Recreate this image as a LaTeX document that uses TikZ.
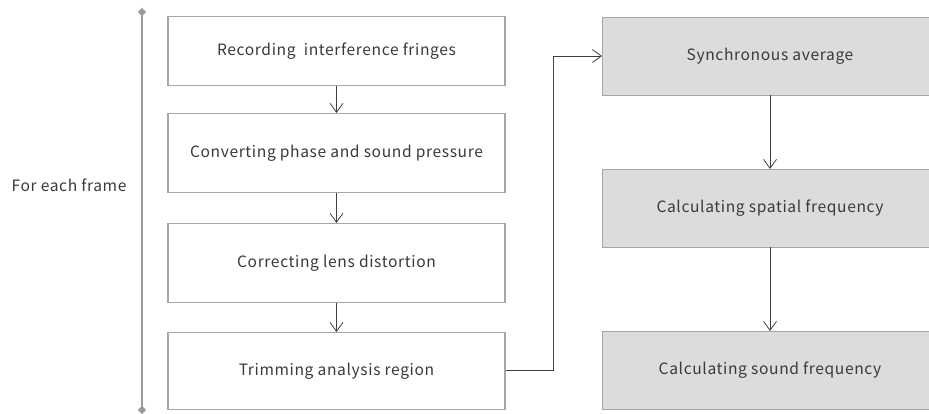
\documentclass[tikz,border=0pt]{standalone}
\usepackage{fontspec}
\setmainfont{Noto Sans CJK JP}[LetterSpace=4]
\usetikzlibrary{arrows.meta,shapes.geometric}
\definecolor{boxborder}{HTML}{A6A6A6}
\definecolor{boxfill}{HTML}{DCDCDE}
\definecolor{txt}{HTML}{3A3A3A}
\definecolor{arr}{HTML}{404040}
\definecolor{bar}{HTML}{9A9A9A}
\begin{document}
\begin{tikzpicture}[x=1pt,y=-1pt,
  stepbox/.style={draw=boxborder,line width=1.4pt,fill=white,minimum width=337pt,anchor=north,inner sep=0pt,text=txt,font=\fontsize{15.6}{18}\selectfont},
  graybox/.style={draw=boxborder,line width=1.4pt,fill=boxfill,minimum width=336pt,minimum height=78pt,anchor=north west,inner sep=0pt},
  flow/.style={draw=arr,line width=0.8pt,-{Straight Barb[length=9pt,width=13pt,line width=0.8pt]}},
  lbl/.style={text=txt,font=\fontsize{15.6}{18}\selectfont}]
\useasboundingbox (0,0) rectangle (929,414);
\clip (0,0) rectangle (929,414);
% left column
\node[stepbox,minimum height=69pt] (b1) at (336.5,16) {Recording\ \ interference fringes};
\node[stepbox,minimum height=79pt] (b2) at (336.5,113) {Converting phase and sound pressure};
\node[stepbox,minimum height=79pt] (b3) at (336.5,223) {Correcting lens distortion};
\node[stepbox,minimum height=77pt] (b4) at (336.5,332) {Trimming analysis region};
\draw[flow] (b1.south) -- (b2.north);
\draw[flow] (b2.south) -- (b3.north);
\draw[flow] (b3.south) -- (b4.north);
% right column
\node[graybox] (r1) at (602,17) {};
\node[graybox] (r2) at (602,169) {};
\node[graybox] (r3) at (602,331) {};
\node[lbl] (t1) at (770,56) {Synchronous average};
\node[lbl] (t2) at (770,208) {Calculating spatial frequency};
\node[lbl] (t3) at (770,370) {Calculating sound frequency};
\coordinate (a1) at (770,95);
\coordinate (a1e) at (770,169);
\coordinate (a2) at (770,247);
\coordinate (a2e) at (770,331);
\draw[flow] (a1) -- (a1e);
\draw[flow] (a2) -- (a2e);
% connector
\coordinate (c1) at (553,370.5);
\coordinate (c2) at (553,56);
\draw[flow] (b4.east |- c1) -- (c1) -- (c2) -- (r1.west |- c2);
% bar
\coordinate (top) at (142,12);
\coordinate (bot) at (142,410);
\draw[bar,line width=1.4pt] (top) -- (bot);
\node[diamond,fill=bar,inner sep=0pt,minimum size=8.5pt] (d1) at (top) {};
\node[diamond,fill=bar,inner sep=0pt,minimum size=8.5pt] (d2) at (bot) {};
\node[lbl] (fe) at (69,185) {For each frame};
\end{tikzpicture}
\end{document}
